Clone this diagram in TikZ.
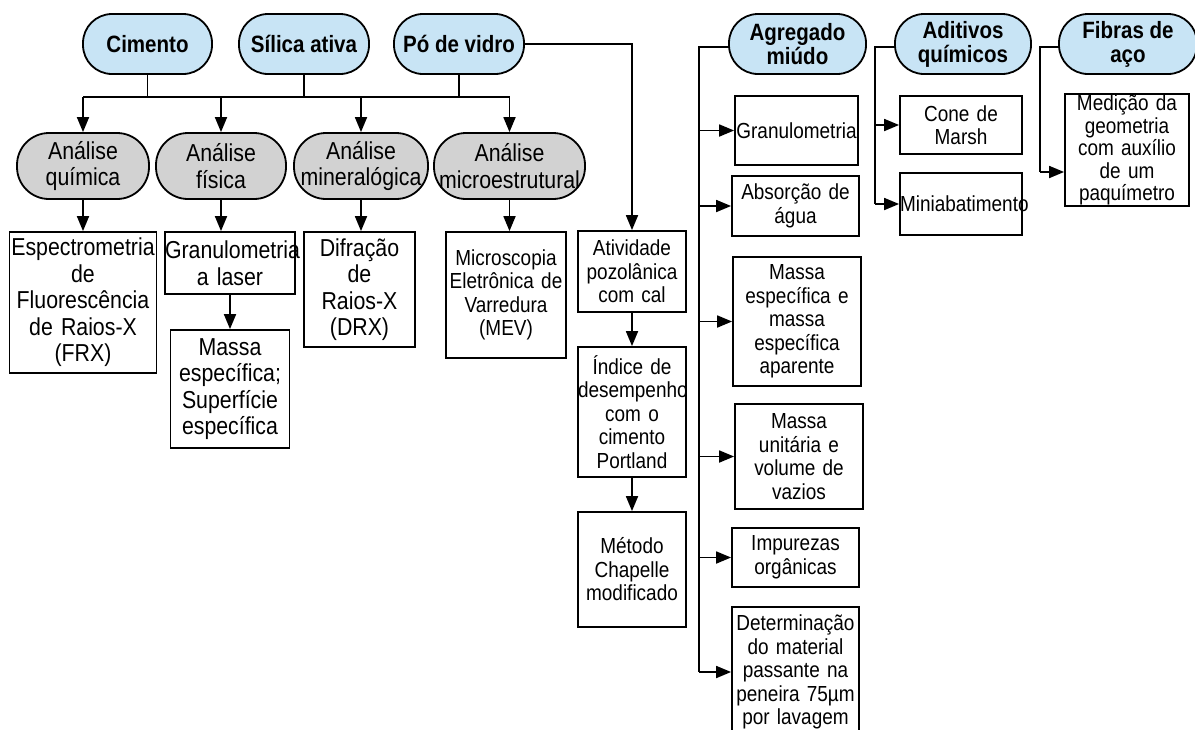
\documentclass[tikz,border=0pt]{standalone}
\usepackage{fontspec}
\setmainfont{Liberation Sans}[FakeStretch=0.87]
\usepackage{tikz}
\usetikzlibrary{arrows.meta}
\definecolor{azul}{RGB}{200,228,245}
\definecolor{cinza}{RGB}{210,210,210}

\begin{document}
\begin{tikzpicture}[x=1pt, y=-1pt, line width=1.8pt, >={Triangle[length=15pt,width=12pt]},
  mat/.style={draw, fill=azul, rounded corners=29pt, align=center, inner sep=0pt, minimum height=60pt, font=\fontsize{23.6}{24}\selectfont\bfseries},
  ana/.style={draw, fill=cinza, rounded corners=32pt, align=center, inner sep=0pt, minimum height=66pt, font=\fontsize{24.5}{26.5}\selectfont},
  ens/.style={draw, align=center, inner sep=0pt, font=\fontsize{24.5}{26.5}\selectfont},
  ensp/.style={draw, align=center, inner sep=0pt, font=\fontsize{21.8}{23.5}\selectfont}]
  \useasboundingbox (0,0) rectangle (1195,729);

  \node[mat, minimum width=129pt] (cim) at (147.5,44) {Cimento};
  \node[mat, minimum width=130pt] (sil) at (304,44) {Sílica ativa};
  \node[mat, minimum width=130pt] (po) at (459,44) {Pó de vidro};
  \node[mat, minimum width=137pt] (agr) at (797.5,44) {Agregado\\miúdo};
  \node[mat, minimum width=136pt] (adi) at (963,44) {Aditivos\\químicos};
  \node[mat, minimum width=138pt] (fib) at (1128,44) {Fibras de\\aço};

  \node[ana, minimum width=132pt] (aq) at (83,166) {Análise\\química};
  \node[ana, minimum width=130pt] (af) at (221,166) {Análise\\física};
  \node[ana, minimum width=134pt] (am) at (361,166) {Análise\\mineralógica};
  \node[ana, minimum width=151pt] (amc) at (509.5,166) {Análise\\microestrutural};

  \node[ens, text width=147pt, minimum height=141pt] (frx) at (83,302.5) {Espectrometria\\de\\Fluorescência\\de Raios-X\\(FRX)};
  \node[ens, text width=130pt, minimum height=62pt] (gl) at (230,263) {Granulometria\\a laser};
  \node[ens, text width=119pt, minimum height=118pt] (me) at (230,389) {Massa\\específica;\\Superfície\\específica};
  \node[ens, text width=111pt, minimum height=115pt] (drx) at (359.5,289.5) {Difração\\de\\Raios-X\\(DRX)};
  \node[ensp, text width=120pt, minimum height=126pt] (mev) at (506,295) {Microscopia\\Eletrônica de\\Varredura\\(MEV)};

  \node[ensp, text width=108pt, minimum height=81pt] (ati) at (632,271.5) {Atividade\\pozolânica\\com cal};
  \node[ensp, text width=108pt, minimum height=130pt] (ind) at (632,412) {Índice de\\desempenho\\com o\\cimento\\Portland};
  \node[ensp, text width=108pt, minimum height=115pt] (met) at (632,569.5) {Método\\Chapelle\\modificado};

  \node[ensp, text width=123pt, minimum height=69pt] (gra) at (796.5,130.5) {Granulometria};
  \node[ensp, text width=127pt, minimum height=60pt] (abs) at (795.5,206) {Absorção de\\água};
  \node[ensp, text width=128pt, minimum height=129pt] (mea) at (797,321.5) {Massa\\específica e\\massa\\específica\\aparente};
  \node[ensp, text width=128pt, minimum height=105pt] (mun) at (799,456.5) {Massa\\unitária e\\volume de\\vazios};
  \node[ensp, text width=127pt, minimum height=59pt] (imp) at (795.5,557.5) {Impurezas\\orgânicas};
  \node[ensp, text width=127pt, minimum height=130pt] (det) at (795.5,672) {Determinação\\do material\\passante na\\peneira 75µm\\por lavagem};

  \node[ensp, text width=122pt, minimum height=58pt] (con) at (961,125) {Cone de\\Marsh};
  \node[ensp, text width=122pt, minimum height=62pt] (min) at (961,204) {Miniabatimento};
  \node[ensp, text width=124pt, minimum height=112pt, font=\fontsize{21.8}{22.5}\selectfont] (med) at (1127,150) {Medição da\\geometria\\com auxílio\\de um\\paquímetro};

  \coordinate (bar) at (0,97);
  \draw (cim) -- (cim |- bar);
  \draw (sil) -- (sil |- bar);
  \draw (po) -- (po |- bar);
  \draw (aq |- bar) -- (amc |- bar);
  \draw[->] (aq |- bar) -- (aq);
  \draw[->] (af |- bar) -- (af);
  \draw[->] (am |- bar) -- (am);
  \draw[->] (amc |- bar) -- (amc);
  \draw[->] (po) -| (ati);

  \draw[->] (aq) -- (frx);
  \draw[->] (af) -- (af |- gl.north);
  \draw[->] (am) -- (am |- drx.north);
  \draw[->] (amc) -- (amc |- mev.north);
  \draw[->] (gl) -- (me);
  \draw[->] (ati) -- (ind);
  \draw[->] (ind) -- (met);

  \coordinate (ag) at (699,47);
  \draw (agr.west |- ag) -- (ag) -- (ag |- det);
  \draw[->] (ag |- gra) -- (gra);
  \draw[->] (ag |- abs) -- (abs);
  \draw[->] (ag |- mea) -- (mea);
  \draw[->] (ag |- mun) -- (mun);
  \draw[->] (ag |- imp) -- (imp);
  \draw[->] (ag |- det) -- (det);

  \coordinate (ad) at (875,47);
  \draw (adi.west |- ad) -- (ad) -- (ad |- min);
  \draw[->] (ad |- con) -- (con);
  \draw[->] (ad |- min) -- (min);

  \coordinate (fb) at (1040,47);
  \coordinate (fbs) at (1040,172);
  \draw (fib.west |- fb) -- (fb) -- (fbs);
  \draw[->] (fbs) -- (fbs -| med.west);
\end{tikzpicture}
\end{document}
